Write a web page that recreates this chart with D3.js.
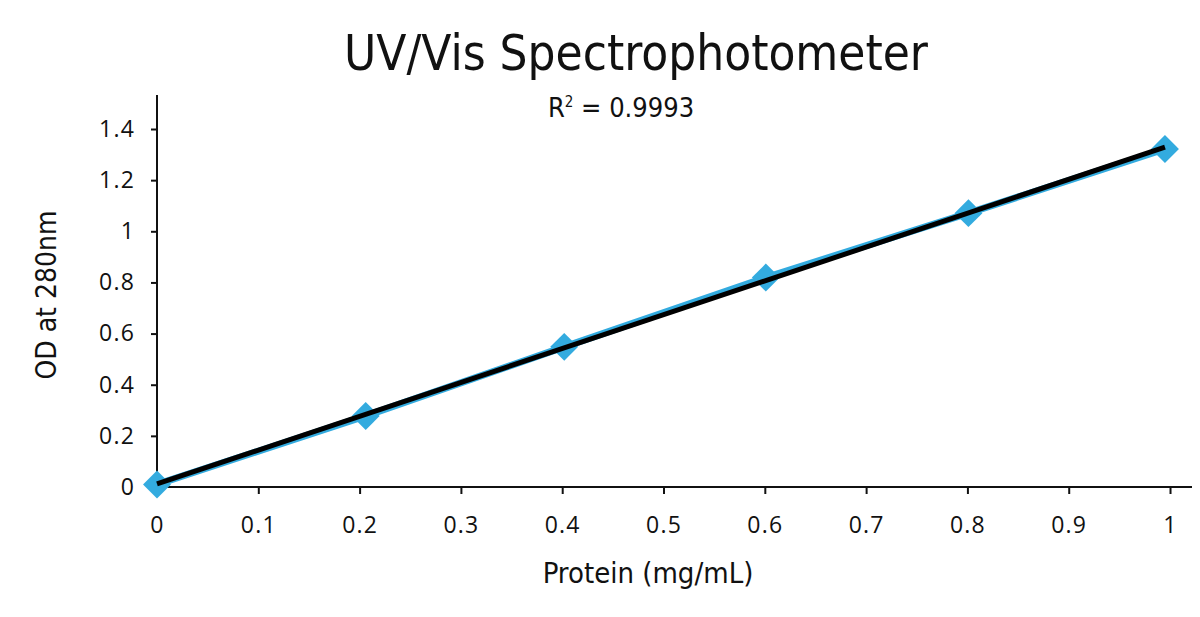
<!DOCTYPE html>
<html lang='en'>
<head>
<meta charset='utf-8'/>
<title>UV/Vis Spectrophotometer</title>
<script src='https://d3js.org/d3.v7.min.js'></script>
<style>
  body { margin: 0; background: #fff; }
</style>
</head>
<body>
<script>
'use strict'
// protein concentration (mg/mL) and optical density read at 280nm
const protein = [0, 0.206, 0.402, 0.601, 0.801, 0.995]
const od280 = [0.01, 0.278, 0.548, 0.819, 1.071, 1.322]
const xTicks = [0, 0.1, 0.2, 0.3, 0.4, 0.5, 0.6, 0.7, 0.8, 0.9, 1]
const yTicks = [0, 0.2, 0.4, 0.6, 0.8, 1, 1.2, 1.4]
const rSquared = '0.9993'

const width = 1200
const height = 617
const narrow = "'Liberation Sans Narrow', 'DejaVu Sans Condensed', sans-serif"
const tickFont = "'Open Sans', 'Noto Sans', sans-serif"

const svg = d3.select('body').append('svg')
  .attr('width', width)
  .attr('height', height)
  .attr('font-family', narrow)

const x = d3.scaleLinear().domain([0, 1.0217]).range([157, 1192])
const y = d3.scaleLinear().domain([0, 1.533]).range([487, 95])

const points = protein.map((p, i) => ({x: p, y: od280[i]}))

// axes
const xAxis = svg.append('g')
  .attr('transform', `translate(0,${y(0)})`)
  .call(d3.axisBottom(x).tickValues(xTicks).tickSize(7).tickPadding(23)
    .tickFormat(d => d3.format('')(d)))
const yAxis = svg.append('g')
  .attr('transform', `translate(${x(0)},0)`)
  .call(d3.axisLeft(y).tickValues(yTicks).tickSize(6).tickPadding(16)
    .tickFormat(d => d3.format('')(d)))

for (const ax of [xAxis, yAxis]) {
  ax.attr('font-family', tickFont).attr('font-size', 23)
  ax.select('.domain').attr('stroke', '#111').attr('stroke-width', 2)
  ax.selectAll('.tick line').attr('stroke', '#111').attr('stroke-width', 2)
  ax.selectAll('.tick text').attr('fill', '#111').attr('letter-spacing', 1.2)
}
xAxis.select('.domain').attr('d', `M${x(0)},0H${x.range()[1]}`)
yAxis.select('.domain').attr('d', `M0,${y.range()[0]}V${y.range()[1]}`)

// data series
const line = d3.line().x(d => x(d.x)).y(d => y(d.y))
svg.append('path')
  .datum(points)
  .attr('fill', 'none')
  .attr('stroke', '#33abdf')
  .attr('stroke-width', 7)
  .attr('d', line)

svg.append('g').selectAll('path')
  .data(points)
  .join('path')
  .attr('transform', d => `translate(${x(d.x)},${y(d.y)}) rotate(45)`)
  .attr('d', d3.symbol(d3.symbolSquare, 390))
  .attr('fill', '#33abdf')

// linear trendline (least squares)
const mx = d3.mean(protein)
const my = d3.mean(od280)
const slope = d3.sum(points, d => (d.x - mx) * (d.y - my)) / d3.sum(points, d => (d.x - mx) ** 2)
const intercept = my - slope * mx
const ext = d3.extent(protein)
svg.append('path')
  .datum(ext.map(v => ({x: v, y: intercept + slope * v})))
  .attr('fill', 'none')
  .attr('stroke', '#000')
  .attr('stroke-width', 5)
  .attr('d', line)

// titles
svg.append('text')
  .attr('x', 636).attr('y', 70)
  .attr('text-anchor', 'middle')
  .attr('font-size', 49)
  .attr('fill', '#111')
  .text('UV/Vis Spectrophotometer')

const r2 = svg.append('text')
  .attr('x', 621).attr('y', 117)
  .attr('text-anchor', 'middle')
  .attr('font-size', 27)
  .attr('fill', '#111')
r2.append('tspan').text('R')
r2.append('tspan').attr('font-size', 15).attr('dy', -10).text('2')
r2.append('tspan').attr('dy', 10).text(' = ' + rSquared)

svg.append('text')
  .attr('x', 648).attr('y', 583)
  .attr('text-anchor', 'middle')
  .attr('font-size', 29)
  .attr('fill', '#111')
  .text('Protein (mg/mL)')

svg.append('text')
  .attr('transform', 'translate(56,295) rotate(-90)')
  .attr('text-anchor', 'middle')
  .attr('font-size', 28)
  .attr('fill', '#111')
  .text('OD at 280nm')
</script>
</body>
</html>
